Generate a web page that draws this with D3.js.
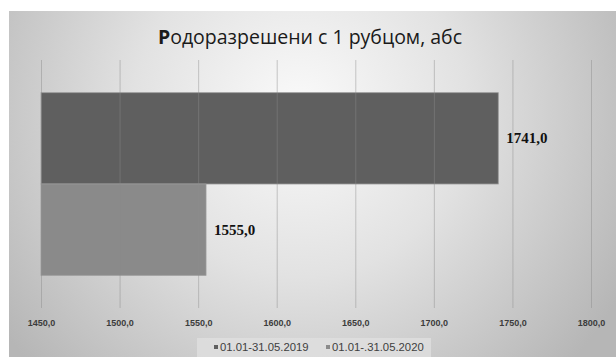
<!DOCTYPE html>
<html>
<head>
<meta charset="utf-8">
<script src="https://cdn.jsdelivr.net/npm/d3@7"></script>
<style>
  html, body { margin: 0; padding: 0; background: #fff; }
  svg { display: block; }
</style>
</head>
<body>
<svg id="chart" width="616" height="357"></svg>
<script>
// Data
const title = "Родоразрешени с 1 рубцом, абс";
const seriesNames = ["01.01-31.05.2019", "01.01-.31.05.2020"];
const seriesValues = [1741.0, 1555.0];
const seriesColors = ["#5f5f5f", "#8a8a8a"];
const xTicks = [1450, 1500, 1550, 1600, 1650, 1700, 1750, 1800];
const xDomain = [1450, 1800];

const svg = d3.select("#chart");
const W = 616, H = 357;

// Background panel with soft radial shading
const defs = svg.append("defs");
const grad = defs.append("radialGradient")
  .attr("id", "bg").attr("gradientUnits", "userSpaceOnUse")
  .attr("cx", 300).attr("cy", 110).attr("r", 370);
grad.append("stop").attr("offset", "0%").attr("stop-color", "#fafafa");
grad.append("stop").attr("offset", "45%").attr("stop-color", "#e2e2e2");
grad.append("stop").attr("offset", "100%").attr("stop-color", "#b6b6b6");

svg.append("rect").attr("x", 9).attr("y", 11).attr("width", W - 9).attr("height", H - 11)
  .attr("fill", "url(#bg)");

const fmt = v => d3.format(".1f")(v).replace(".", ",");

// Scales
const plot = { left: 41, right: 591, top: 60, bottom: 308 };
const x = d3.scaleLinear().domain(xDomain).range([plot.left, plot.right]);
const y = d3.scaleBand().domain(seriesNames)
  .range([plot.top + 32.7, plot.bottom - 32.7]).paddingInner(0);

// Title
const t = svg.append("text").attr("x", 310).attr("y", 44)
  .attr("text-anchor", "middle")
  .attr("font-family", "Open Sans, sans-serif").attr("font-size", 19.5)
  .attr("fill", "#1a1a1a");
t.append("tspan").attr("font-weight", "bold").text(title.slice(0, 1));
t.append("tspan").text(title.slice(1));

// Bars
svg.append("g").selectAll("rect").data(seriesNames).join("rect")
  .attr("x", x(xDomain[0]))
  .attr("y", d => y(d))
  .attr("width", (d, i) => x(seriesValues[i]) - x(xDomain[0]))
  .attr("height", y.bandwidth())
  .attr("fill", (d, i) => seriesColors[i])
  .attr("stroke", "#9a9a9a").attr("stroke-width", 0.8);

// Vertical gridlines, faintly visible over the bars
const axis = d3.axisBottom(x).tickValues(xTicks).tickFormat(fmt)
  .tickSize(-(plot.bottom - plot.top)).tickPadding(10);
const gAxis = svg.append("g").attr("transform", `translate(0,${plot.bottom})`).call(axis);
gAxis.select(".domain").remove();
gAxis.selectAll(".tick line").attr("stroke", "#8c8c8c").attr("stroke-opacity", 0.45);
gAxis.selectAll(".tick text")
  .attr("font-family", "Liberation Sans, Arial, sans-serif").attr("font-size", 9)
  .attr("font-weight", "bold")
  .attr("fill", "#3c3c3c").attr("dy", "0.9em");

// Value labels
svg.append("g").selectAll("text").data(seriesNames).join("text")
  .attr("x", (d, i) => x(seriesValues[i]) + 8)
  .attr("y", d => y(d) + y.bandwidth() / 2 + 5)
  .attr("font-family", "Liberation Serif, Times New Roman, serif")
  .attr("font-weight", "bold").attr("font-size", 15)
  .attr("fill", "#111")
  .text((d, i) => fmt(seriesValues[i]));

// Legend
const lg = svg.append("g");
lg.append("rect").attr("x", 197).attr("y", 338).attr("width", 234).attr("height", 19)
  .attr("fill", "#e0e0e0").attr("opacity", 0.75);
const legendX = [214, 326];
const items = lg.selectAll("g").data(seriesNames).join("g")
  .attr("transform", (d, i) => `translate(${legendX[i]},347)`);
items.append("rect").attr("x", 0).attr("y", -2).attr("width", 4).attr("height", 4)
  .attr("fill", (d, i) => seriesColors[i]);
items.append("text").attr("x", 6).attr("y", 4)
  .attr("font-family", "Liberation Sans, Arial, sans-serif").attr("font-size", 11.3)
  .attr("fill", "#404040").text(d => d);
</script>
</body>
</html>
